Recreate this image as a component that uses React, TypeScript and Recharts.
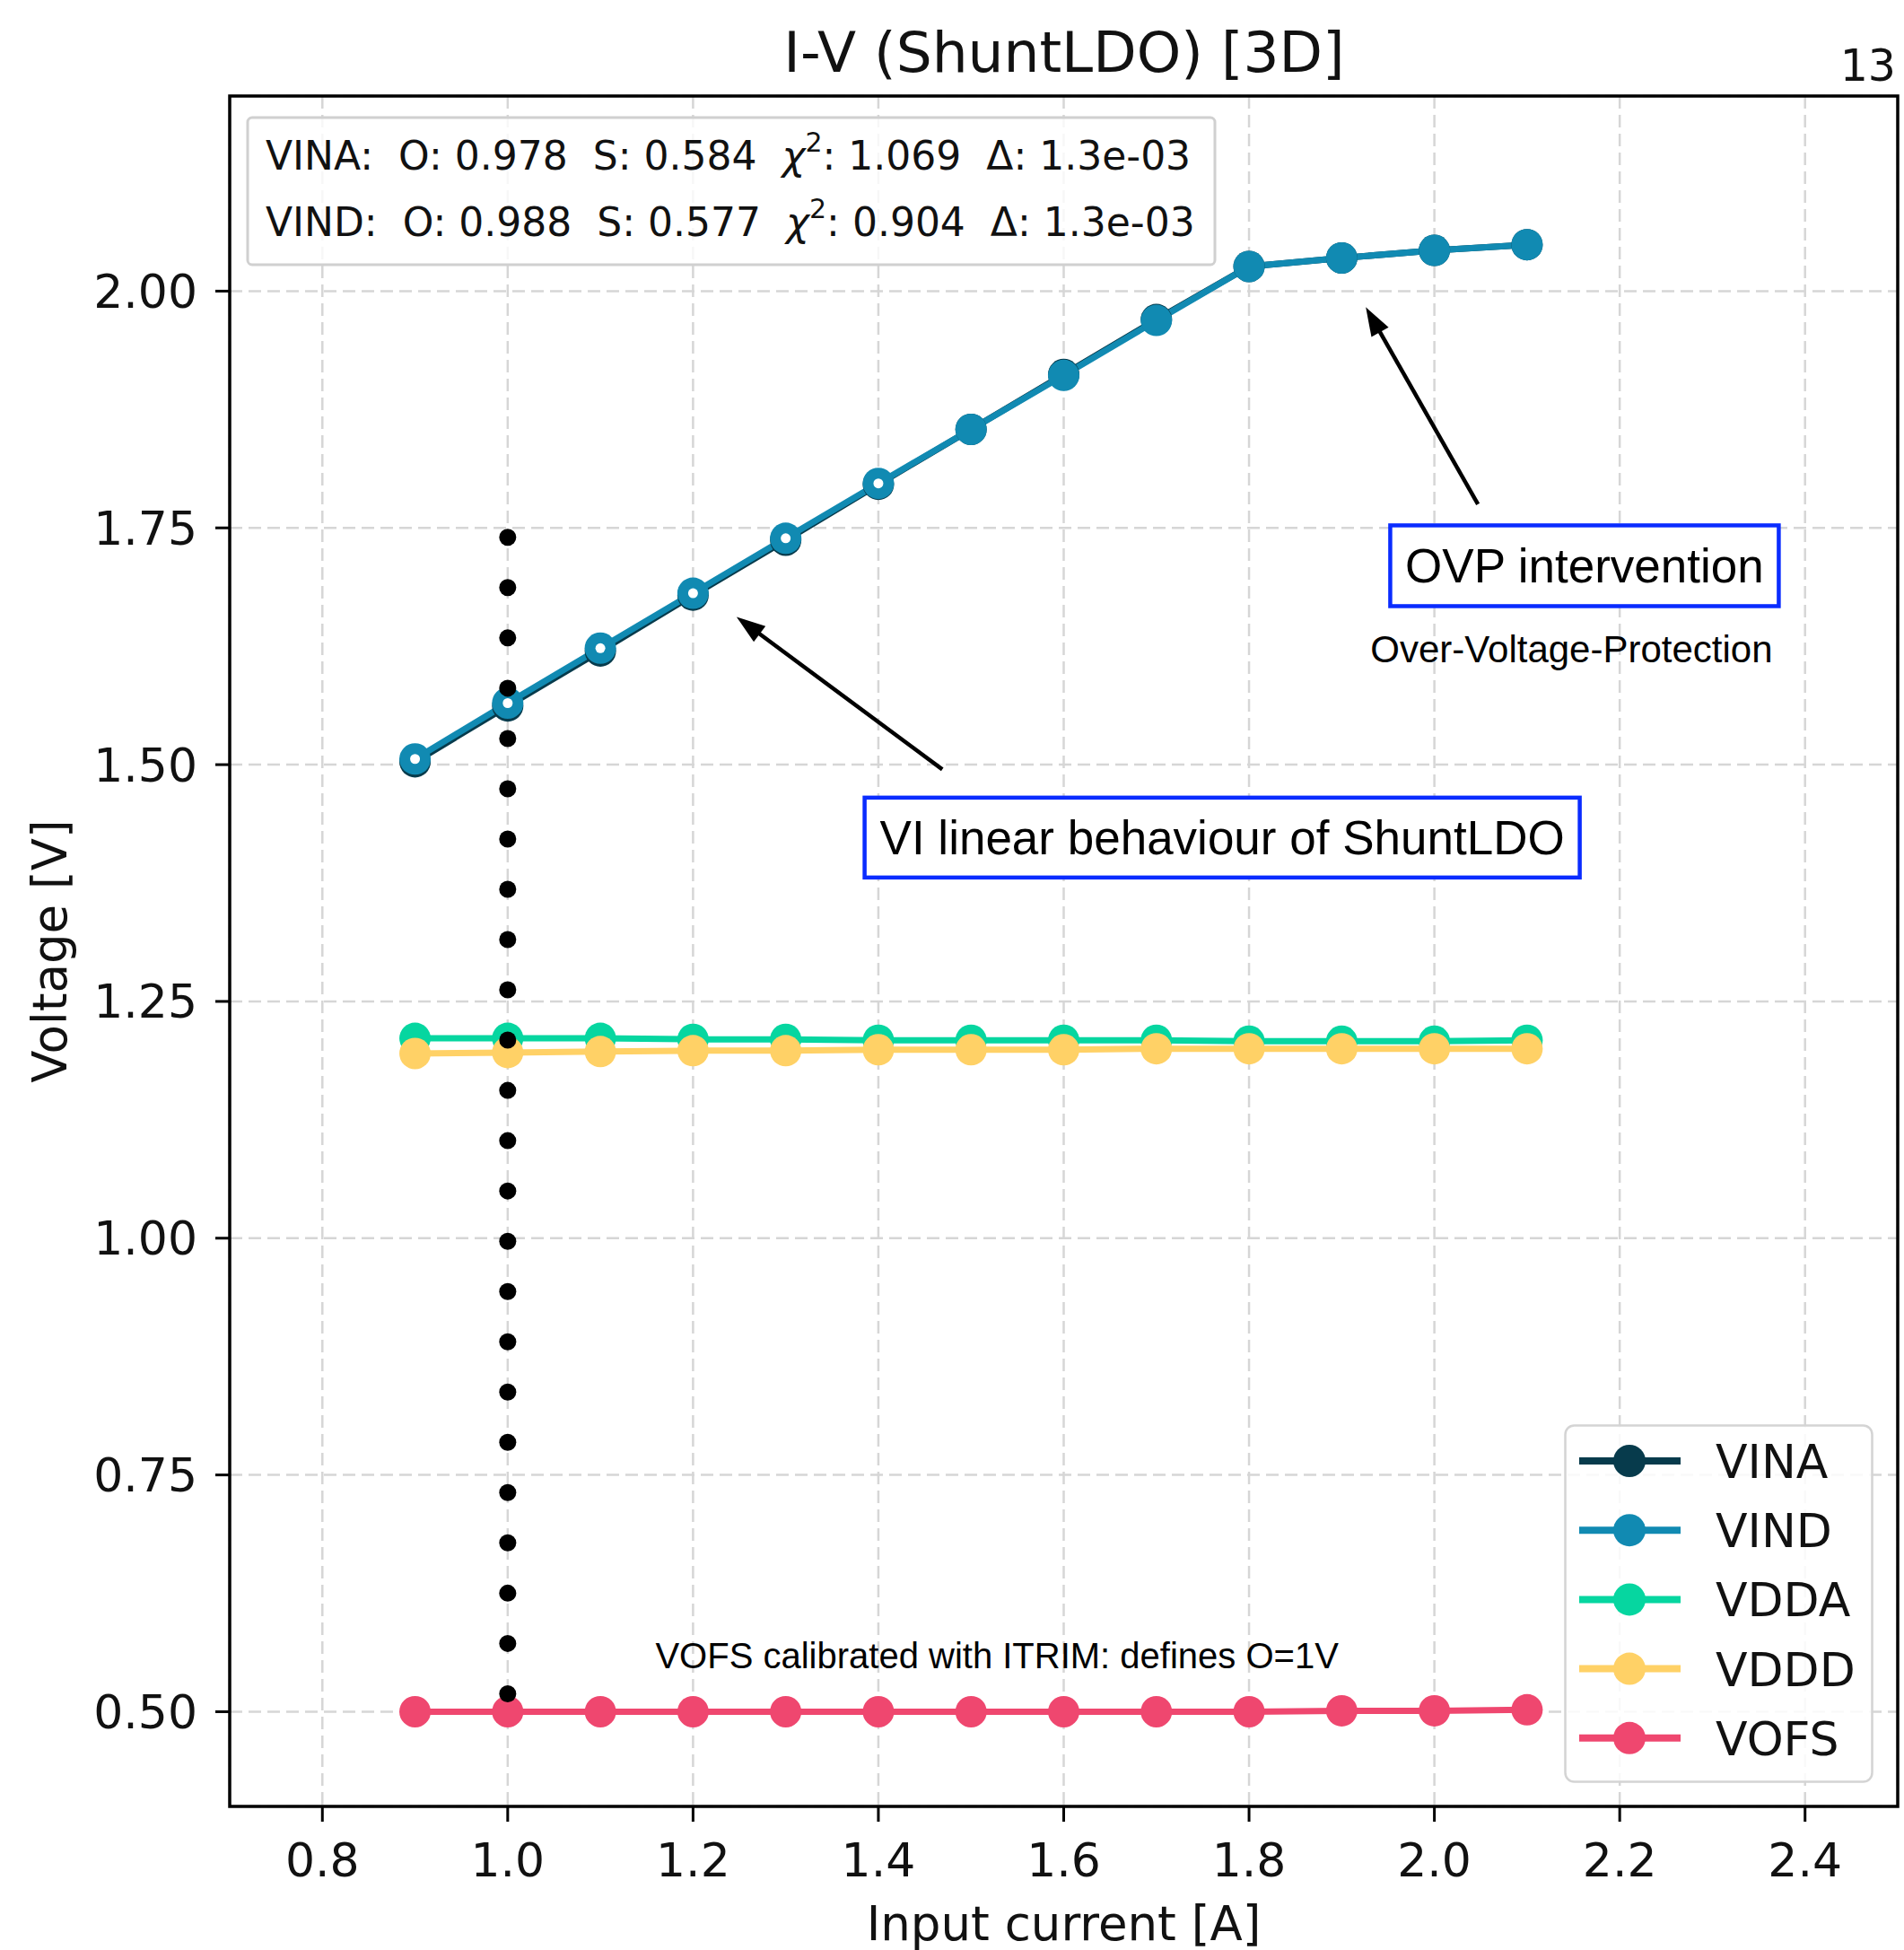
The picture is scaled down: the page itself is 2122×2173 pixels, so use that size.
import React from 'react';
import {
  LineChart,
  Line,
  XAxis,
  YAxis,
  CartesianGrid,
  ReferenceLine,
  ReferenceDot,
  ReferenceArea,
  Legend,
} from 'recharts';

// ---------------- data ----------------
const currents = [0.9, 1.0, 1.1, 1.2, 1.3, 1.4, 1.5, 1.6, 1.7, 1.8, 1.9, 2.0, 2.1];
const vina = [1.503, 1.562, 1.620, 1.679, 1.737, 1.796, 1.854, 1.912, 1.970, 2.026, 2.035, 2.043, 2.049];
const vind = [1.506, 1.565, 1.623, 1.681, 1.739, 1.797, 1.854, 1.911, 1.969, 2.026, 2.035, 2.043, 2.049];
const vdda = [1.211, 1.211, 1.211, 1.210, 1.210, 1.209, 1.209, 1.209, 1.209, 1.208, 1.208, 1.208, 1.209];
const vddd = [1.195, 1.196, 1.197, 1.198, 1.198, 1.199, 1.199, 1.199, 1.200, 1.200, 1.200, 1.200, 1.200];
const vofs = [0.500, 0.500, 0.500, 0.500, 0.500, 0.500, 0.500, 0.500, 0.500, 0.500, 0.501, 0.501, 0.502];

const seriesNames = ['VINA', 'VIND', 'VDDA', 'VDDD', 'VOFS'];
const seriesValues = [vina, vind, vdda, vddd, vofs];
const seriesColors = ['#073b4c', '#118ab2', '#06d6a0', '#ffd166', '#ef476f'];
const hollowUpTo = 1.4; // VIND markers at these currents show a white centre

const xTicks = [0.8, 1.0, 1.2, 1.4, 1.6, 1.8, 2.0, 2.2, 2.4];
const yTicks = [0.5, 0.75, 1.0, 1.25, 1.5, 1.75, 2.0];
const xDomain = [0.7, 2.5];
const yDomain = [0.4, 2.206];

// fit summary box
const fitNames = ['VINA', 'VIND'];
const fitOffsets = ['0.978', '0.988'];
const fitSlopes = ['0.584', '0.577'];
const fitChi2 = ['1.069', '0.904'];
const fitDelta = ['1.3e-03', '1.3e-03'];

// annotations (data coordinates)
const calibLine = { x: 1.0, yFrom: 0.519, yTo: 1.74 };
const arrowFrom = [
  { x: 1.469, y: 1.495 },
  { x: 2.047, y: 1.775 },
];
const arrowTo = [
  { x: 1.247, y: 1.656 },
  { x: 1.926, y: 1.983 },
];
const boxedNotes = [
  { x: 1.771, y: 1.423, text: 'VI linear behaviour of ShuntLDO' },
  { x: 2.162, y: 1.71, text: 'OVP intervention' },
];
const plainNotes = [
  { x: 2.148, y: 1.622, text: 'Over-Voltage-Protection', size: 42 },
  { x: 1.528, y: 0.56, text: 'VOFS calibrated with ITRIM: defines O=1V', size: 40 },
];

const tableData = currents.map((c, i) => {
  const row: any = { I: c };
  seriesNames.forEach((n, k) => {
    row[n] = seriesValues[k][i];
  });
  return row;
});

// ---------------- styling ----------------
const W = 2122;
const H = 2173;
const MPL = 'DejaVu Sans, Verdana, sans-serif';
const HELV = 'Liberation Sans, Arial, Helvetica, sans-serif';

const ArrowShape = (props: any) => {
  const { x1, y1, x2, y2 } = props;
  const ang = Math.atan2(y2 - y1, x2 - x1);
  const L = 32;
  const Wd = 11;
  const bx = x2 - L * Math.cos(ang);
  const by = y2 - L * Math.sin(ang);
  const px = -Math.sin(ang) * Wd;
  const py = Math.cos(ang) * Wd;
  return (
    <g>
      <line x1={x1} y1={y1} x2={bx + 2 * Math.cos(ang)} y2={by + 2 * Math.sin(ang)} stroke="#000" strokeWidth={4.5} />
      <polygon points={`${x2},${y2} ${bx + px},${by + py} ${bx - px},${by - py}`} fill="#000" />
    </g>
  );
};

const DottedShape = (props: any) => {
  const { x1, y1, x2, y2 } = props;
  if (x1 == null || y1 == null) return null;
  const len = Math.hypot(x2 - x1, y2 - y1);
  const n = Math.round(len / 56);
  const dots = [];
  for (let i = 0; i <= n; i++) {
    const t = n === 0 ? 0 : i / n;
    dots.push(<circle key={i} cx={x1 + (x2 - x1) * t} cy={y1 + (y2 - y1) * t} r={9.5} fill="#000" />);
  }
  return <g>{dots}</g>;
};

const boxSizes = [
  { w: 797, h: 89 },
  { w: 433, h: 90 },
];

const makeBoxShape = (idx: number, text: string) => (props: any) => {
  const { cx, cy } = props;
  const { w, h } = boxSizes[idx];
  return (
    <g>
      <rect x={cx - w / 2} y={cy - h / 2} width={w} height={h} fill="#fff" stroke="#0a2cff" strokeWidth={4.5} />
      <text x={cx} y={cy + 19} textAnchor="middle" fontFamily={HELV} fontSize={53} fill="#000">
        {text}
      </text>
    </g>
  );
};

const makeTextShape = (text: string, size: number) => (props: any) => {
  const { cx, cy } = props;
  return (
    <text x={cx} y={cy + size * 0.36} textAnchor="middle" fontFamily={HELV} fontSize={size} fill="#000">
      {text}
    </text>
  );
};

const VindDot = (props: any) => {
  const { cx, cy, payload } = props;
  if (cx == null || cy == null) return null;
  const hollow = payload && payload.I <= hollowUpTo + 1e-9;
  return (
    <g>
      <circle cx={cx} cy={cy} r={17.5} fill={seriesColors[1]} />
      {hollow ? <circle cx={cx} cy={cy} r={5.5} fill="#fff" /> : null}
    </g>
  );
};

const LegendContent = (props: any) => {
  const raw = (props.payload || []) as any[];
  const payload = [...raw].sort(
    (a, b) => seriesNames.indexOf(String(a.value)) - seriesNames.indexOf(String(b.value)),
  );
  return (
    <svg width={345} height={400} style={{ display: 'block' }}>
      <rect x={1.5} y={1.5} width={342} height={397} rx={10} ry={10} fill="rgba(255,255,255,0.85)" stroke="#d4d4d4" strokeWidth={2.5} />
      {payload.map((p, i) => {
        const y = 41 + i * 77.2;
        return (
          <g key={p.value}>
            <line x1={17} y1={y} x2={130} y2={y} stroke={p.color} strokeWidth={8} />
            <circle cx={73} cy={y} r={18} fill={p.color} />
            <text x={169} y={y + 19} fontFamily={MPL} fontSize={52} fill="#111">
              {p.value}
            </text>
          </g>
        );
      })}
    </svg>
  );
};

const YLabel = (props: any) => {
  const vb = props.viewBox || { x: 0, y: 0, width: 0, height: 0 };
  const x = 55;
  const y = vb.y + vb.height / 2;
  return (
    <text x={x} y={y} transform={`rotate(-90, ${x}, ${y})`} textAnchor="middle" dominantBaseline="central" fontFamily={MPL} fontSize={53} fill="#111">
      Voltage [V]
    </text>
  );
};

const XLabel = (props: any) => {
  const vb = props.viewBox || { x: 0, y: 0, width: 0, height: 0 };
  const x = vb.x + vb.width / 2;
  return (
    <text x={x} y={2162} textAnchor="middle" fontFamily={MPL} fontSize={53} fill="#111">
      Input current [A]
    </text>
  );
};

export default function App() {
  return (
    <div style={{ position: 'absolute', left: 0, top: 0, width: W, height: H, background: '#fff' }}>
      <LineChart width={W} height={H} data={tableData} margin={{ top: 107, right: 7, bottom: 10, left: 6 }}>
        <CartesianGrid stroke="#d6d6d6" strokeDasharray="14 7" strokeWidth={2.5} />
        <XAxis
          type="number"
          dataKey="I"
          domain={xDomain}
          allowDataOverflow
          ticks={xTicks}
          tickFormatter={(v: number) => v.toFixed(1)}
          height={150}
          axisLine={false}
          tickLine={{ stroke: '#000', strokeWidth: 3 }}
          tickSize={17}
          tickMargin={24}
          tick={{ fontSize: 52, fill: '#111', fontFamily: MPL }}
          label={<XLabel />}
        />
        <YAxis
          type="number"
          domain={yDomain}
          allowDataOverflow
          ticks={yTicks}
          tickFormatter={(v: number) => v.toFixed(2)}
          width={250}
          axisLine={false}
          tickLine={{ stroke: '#000', strokeWidth: 3 }}
          tickSize={16}
          tickMargin={20}
          tick={{ fontSize: 52, fill: '#111', fontFamily: MPL }}
          label={<YLabel />}
        />
        <ReferenceArea
          x1={xDomain[0]}
          x2={xDomain[1]}
          y1={yDomain[0]}
          y2={yDomain[1]}
          fill="none"
          fillOpacity={0}
          stroke="#000"
          strokeWidth={3.5}
          ifOverflow="visible"
        />
        {seriesNames.map((n, k) => (
          <Line
            key={n}
            type="linear"
            dataKey={n}
            name={n}
            stroke={seriesColors[k]}
            strokeWidth={7}
            dot={n === 'VIND' ? <VindDot /> : { r: 17.5, fill: seriesColors[k], stroke: 'none', strokeWidth: 0 }}
            activeDot={false}
            isAnimationActive={false}
          />
        ))}
        <ReferenceLine
          segment={[
            { x: calibLine.x, y: calibLine.yFrom },
            { x: calibLine.x, y: calibLine.yTo },
          ]}
          shape={DottedShape}
          ifOverflow="visible"
          {...({ zIndex: 1200 } as any)}
        />
        {arrowFrom.map((a, i) => (
          <ReferenceLine
            key={`arrow${i}`}
            segment={[a, arrowTo[i]]}
            shape={ArrowShape}
            ifOverflow="visible"
            {...({ zIndex: 1200 } as any)}
          />
        ))}
        {boxedNotes.map((b, i) => (
          <ReferenceDot key={`box${i}`} x={b.x} y={b.y} r={1} ifOverflow="visible" shape={makeBoxShape(i, b.text)} />
        ))}
        {plainNotes.map((t, i) => (
          <ReferenceDot key={`note${i}`} x={t.x} y={t.y} r={1} ifOverflow="visible" shape={makeTextShape(t.text, t.size)} />
        ))}
        <Legend
          layout="vertical"
          align="center"
          verticalAlign="middle"
          content={<LegendContent />}
          wrapperStyle={{ position: 'absolute', left: 1743, top: 1587, width: 345, height: 400 }}
        />
      </LineChart>
      <svg
        width={W}
        height={H}
        style={{ position: 'absolute', left: 0, top: 0, pointerEvents: 'none' }}
      >
        <text x={1186} y={58 + 22} textAnchor="middle" fontFamily={MPL} fontSize={63} fill="#111">
          I-V (ShuntLDO) [3D]
        </text>
        <text x={2113} y={72 + 18} textAnchor="end" fontFamily={MPL} fontSize={49} fill="#111">
          13
        </text>
        <rect x={276} y={131} width={1078} height={164} rx={5} fill="rgba(255,255,255,0.8)" stroke="#d0d0d0" strokeWidth={3} />
        {fitNames.map((n, i) => (
          <text
            key={n}
            x={296}
            y={173 + i * 74 + 16}
            fontFamily={MPL}
            fontSize={44}
            fill="#111"
            style={{ whiteSpace: 'pre' }}
          >
            {`${n}:  O: ${fitOffsets[i]}  S: ${fitSlopes[i]}  `}
            <tspan fontStyle="italic">χ</tspan>
            <tspan fontSize={30} dy={-20}>2</tspan>
            <tspan dy={20}>{`: ${fitChi2[i]}  Δ: ${fitDelta[i]}`}</tspan>
          </text>
        ))}
      </svg>
    </div>
  );
}
